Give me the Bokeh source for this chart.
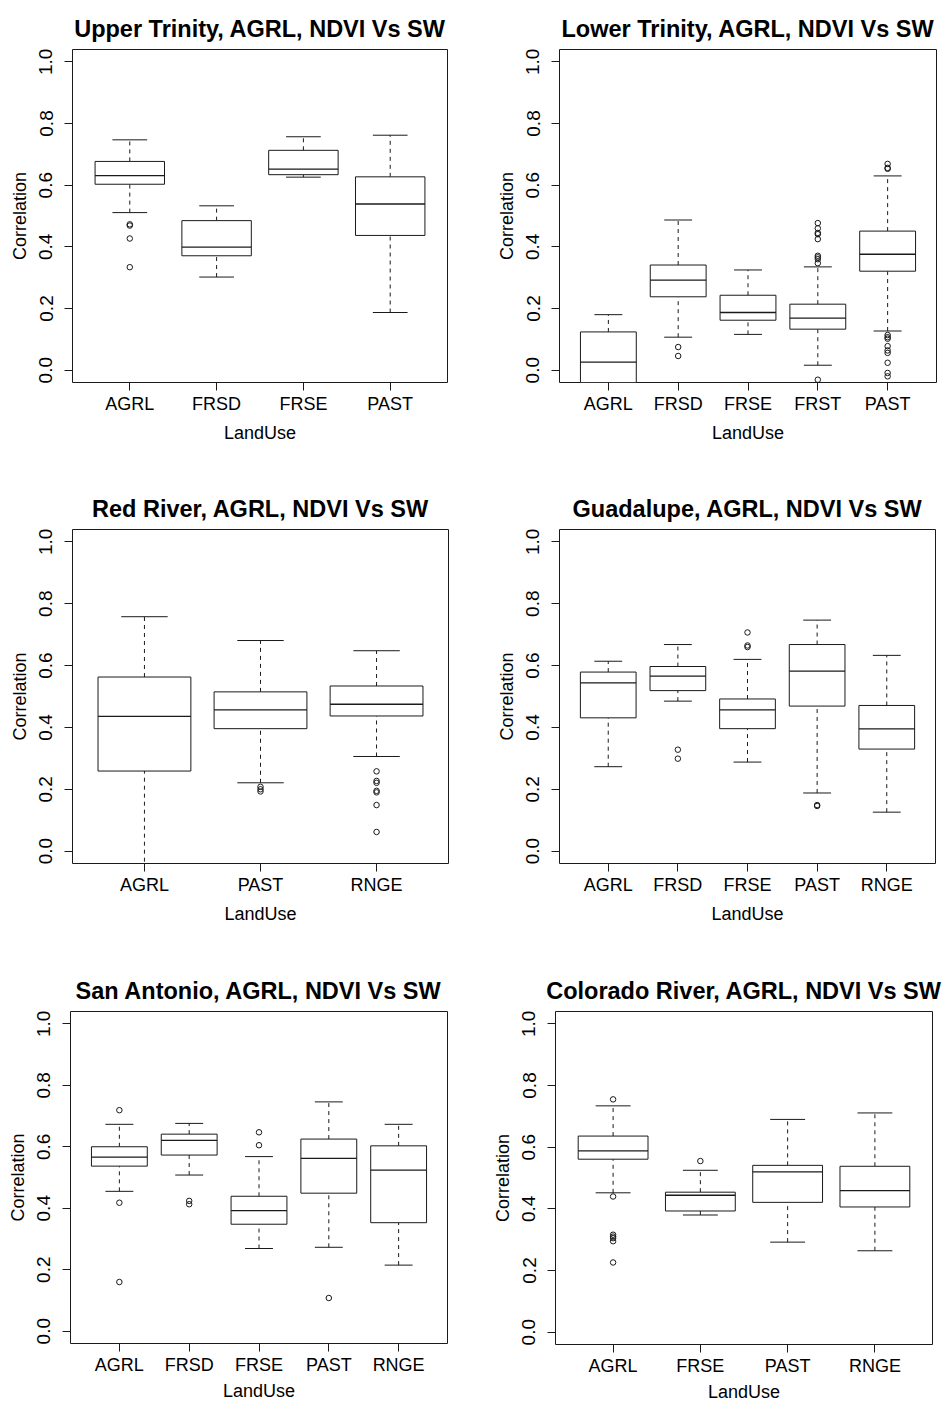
from bokeh.plotting import figure
from bokeh.models import ColumnDataSource, FixedTicker, PrintfTickFormatter, Title
from bokeh.layouts import column, row
from bokeh.transform import dodge
from bokeh.embed import file_html
from bokeh.resources import INLINE

# ---------------- data ----------------
UT_CATS = ["AGRL", "FRSD", "FRSE", "PAST"]
UT_LOWER = [0.511, 0.302, 0.626, 0.187]
UT_Q1 = [0.603, 0.371, 0.634, 0.437]
UT_MEDIAN = [0.631, 0.399, 0.652, 0.539]
UT_Q3 = [0.677, 0.485, 0.713, 0.627]
UT_UPPER = [0.747, 0.533, 0.757, 0.762]
UT_OUTLIERS = [[0.473, 0.469, 0.427, 0.334], [], [], []]

LT_CATS = ["AGRL", "FRSD", "FRSE", "FRST", "PAST"]
LT_LOWER = [-0.12, 0.107, 0.116, 0.016, 0.127]
LT_Q1 = [-0.07, 0.238, 0.162, 0.133, 0.321]
LT_MEDIAN = [0.026, 0.292, 0.187, 0.169, 0.376]
LT_Q3 = [0.124, 0.341, 0.243, 0.214, 0.451]
LT_UPPER = [0.180, 0.487, 0.325, 0.335, 0.630]
LT_OUTLIERS = [[], [0.075, 0.046], [],
               [0.477, 0.460, 0.445, 0.441, 0.425, 0.371, 0.366, 0.360, 0.347, -0.031],
               [0.669, 0.656, 0.653, 0.114, 0.107, 0.102, 0.078, 0.064, 0.056, 0.024, -0.009, -0.020]]

RR_CATS = ["AGRL", "PAST", "RNGE"]
RR_LOWER = [-0.06, 0.221, 0.306]
RR_Q1 = [0.259, 0.396, 0.437]
RR_MEDIAN = [0.436, 0.457, 0.475]
RR_Q3 = [0.563, 0.515, 0.534]
RR_UPPER = [0.758, 0.681, 0.648]
RR_OUTLIERS = [[], [0.208, 0.200, 0.193], [0.258, 0.227, 0.221, 0.195, 0.190, 0.149, 0.062]]

GU_CATS = ["AGRL", "FRSD", "FRSE", "PAST", "RNGE"]
GU_LOWER = [0.273, 0.485, 0.288, 0.188, 0.126]
GU_Q1 = [0.431, 0.519, 0.396, 0.469, 0.330]
GU_MEDIAN = [0.544, 0.566, 0.457, 0.582, 0.395]
GU_Q3 = [0.579, 0.597, 0.492, 0.668, 0.471]
GU_UPPER = [0.614, 0.668, 0.620, 0.747, 0.633]
GU_OUTLIERS = [[], [0.328, 0.299], [0.707, 0.665, 0.660], [0.149, 0.146], []]

SA_CATS = ["AGRL", "FRSD", "FRSE", "PAST", "RNGE"]
SA_LOWER = [0.455, 0.508, 0.269, 0.273, 0.215]
SA_Q1 = [0.537, 0.573, 0.348, 0.449, 0.353]
SA_MEDIAN = [0.566, 0.621, 0.392, 0.562, 0.524]
SA_Q3 = [0.600, 0.641, 0.439, 0.625, 0.603]
SA_UPPER = [0.673, 0.676, 0.568, 0.746, 0.673]
SA_OUTLIERS = [[0.719, 0.418, 0.160], [0.424, 0.413], [0.647, 0.605], [0.108], []]

CR_CATS = ["AGRL", "FRSE", "PAST", "RNGE"]
CR_LOWER = [0.452, 0.380, 0.292, 0.264]
CR_Q1 = [0.561, 0.393, 0.421, 0.406]
CR_MEDIAN = [0.588, 0.444, 0.520, 0.459]
CR_Q3 = [0.636, 0.454, 0.541, 0.538]
CR_UPPER = [0.734, 0.525, 0.690, 0.711]
CR_OUTLIERS = [[0.755, 0.440, 0.316, 0.310, 0.305, 0.295, 0.226], [0.555], [], []]

Y_TICKS = [0.0, 0.2, 0.4, 0.6, 0.8, 1.0]

FONT = "Liberation Sans"
INK = "#1a1a1a"


def panel(title, cats, lower, q1, med, q3, upper, outliers,
          left, right, top, bottom, fw, fh, xlab_standoff=6):
    n = len(cats)
    pad = 0.04 * n
    p = figure(frame_width=fw, frame_height=fh,
               min_border_left=left, min_border_right=right,
               min_border_top=top, min_border_bottom=bottom,
               x_range=(0.5 - pad, n + 0.5 + pad), y_range=(-0.04, 1.04),
               output_backend="svg", toolbar_location=None)
    p.background_fill_color = "white"
    p.border_fill_color = "white"
    p.outline_line_color = INK
    p.outline_line_width = 1
    p.outline_line_alpha = 1.0
    p.xgrid.visible = False
    p.ygrid.visible = False

    p.add_layout(Title(text=title, align="center", standoff=16,
                       text_font=FONT, text_font_size="23.5px",
                       text_font_style="bold", text_color="black"), "above")

    xs = list(range(1, n + 1))
    src = ColumnDataSource(dict(x=xs, lower=lower, q1=q1, med=med, q3=q3, upper=upper))

    # whiskers (dashed)
    p.segment(x0="x", y0="q3", x1="x", y1="upper", source=src,
              line_color=INK, line_width=1, line_dash="4 4")
    p.segment(x0="x", y0="lower", x1="x", y1="q1", source=src,
              line_color=INK, line_width=1, line_dash="4 4")
    # staples
    p.segment(x0=dodge("x", -0.2), y0="upper", x1=dodge("x", 0.2), y1="upper",
              source=src, line_color=INK, line_width=1)
    p.segment(x0=dodge("x", -0.2), y0="lower", x1=dodge("x", 0.2), y1="lower",
              source=src, line_color=INK, line_width=1)
    # boxes
    p.vbar(x="x", width=0.8, bottom="q1", top="q3", source=src,
           fill_color="white", line_color=INK, line_width=1)
    # medians
    p.segment(x0=dodge("x", -0.4), y0="med", x1=dodge("x", 0.4), y1="med",
              source=src, line_color=INK, line_width=1.3)

    ox, oy = [], []
    for i, vals in enumerate(outliers):
        for v in vals:
            ox.append(i + 1)
            oy.append(v)
    osrc = ColumnDataSource(dict(x=ox, y=oy))
    p.scatter(x="x", y="y", source=osrc, marker="circle", size=5.5,
              fill_color=None, line_color=INK, line_width=1)

    # axes
    xax = p.below[0]
    yax = p.left[0]
    xax.ticker = FixedTicker(ticks=xs)
    xax.major_label_overrides = {i + 1: c for i, c in enumerate(cats)}
    yax.ticker = FixedTicker(ticks=Y_TICKS)
    yax.formatter = PrintfTickFormatter(format="%.1f")
    yax.major_label_orientation = "vertical"
    xax.axis_label = "LandUse"
    yax.axis_label = "Correlation"
    for ax in (xax, yax):
        ax.axis_line_color = None
        ax.minor_tick_line_color = None
        ax.major_tick_in = 0
        ax.major_tick_out = 8
        ax.major_tick_line_color = INK
        ax.major_label_text_font = FONT
        ax.major_label_text_color = "black"
        ax.axis_label_text_font = FONT
        ax.axis_label_text_font_size = "18px"
        ax.axis_label_text_font_style = "normal"
        ax.axis_label_text_color = "black"
    xax.major_label_text_font_size = "18px"
    yax.major_label_text_font_size = "19px"
    xax.major_label_standoff = 3
    xax.axis_label_standoff = xlab_standoff
    yax.major_label_standoff = 12
    yax.axis_label_standoff = 7
    return p


p1 = panel("Upper Trinity, AGRL, NDVI Vs SW", UT_CATS, UT_LOWER, UT_Q1, UT_MEDIAN, UT_Q3, UT_UPPER, UT_OUTLIERS,
           72, 24, 49, 98, 375, 333)
p2 = panel("Lower Trinity, AGRL, NDVI Vs SW", LT_CATS, LT_LOWER, LT_Q1, LT_MEDIAN, LT_Q3, LT_UPPER, LT_OUTLIERS,
           88, 6, 47, 100, 377, 333)
p3 = panel("Red River, AGRL, NDVI Vs SW", RR_CATS, RR_LOWER, RR_Q1, RR_MEDIAN, RR_Q3, RR_UPPER, RR_OUTLIERS,
           72, 23, 49, 97, 376, 334)
p4 = panel("Guadalupe, AGRL, NDVI Vs SW", GU_CATS, GU_LOWER, GU_Q1, GU_MEDIAN, GU_Q3, GU_UPPER, GU_OUTLIERS,
           88, 7, 49, 97, 376, 334)
p5 = panel("San Antonio, AGRL, NDVI Vs SW", SA_CATS, SA_LOWER, SA_Q1, SA_MEDIAN, SA_Q3, SA_UPPER, SA_OUTLIERS,
           70, 24, 51, 60, 377, 332, xlab_standoff=3)
p6 = panel("Colorado River, AGRL, NDVI Vs SW", CR_CATS, CR_LOWER, CR_Q1, CR_MEDIAN, CR_Q3, CR_UPPER, CR_OUTLIERS,
           84, 10, 47, 63, 377, 333, xlab_standoff=3)

layout = column(row(p1, p2), row(p3, p4), row(p5, p6))

open("out.html", "w").write(file_html(layout, INLINE))
